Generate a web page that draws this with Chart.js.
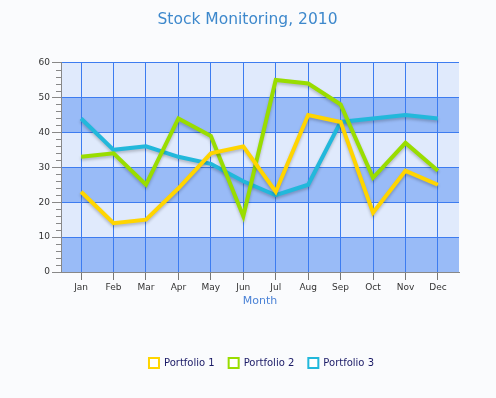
<!DOCTYPE html>
<html>
<head>
<meta charset="utf-8">
<script src="https://cdn.jsdelivr.net/npm/chart.js@4"></script>
<style>
  html, body { margin: 0; padding: 0; background: #fafbfd; }
  #wrap { width: 496px; height: 398px; }
</style>
</head>
<body>
<div id="wrap"><canvas id="stockChart"></canvas></div>
<script>
// dati
const months = ['Jan', 'Feb', 'Mar', 'Apr', 'May', 'Jun', 'Jul', 'Aug', 'Sep', 'Oct', 'Nov', 'Dec'];
const portfolio1 = [23, 14, 15, 24, 34, 36, 23, 45, 43, 17, 29, 25];
const portfolio2 = [33, 34, 25, 44, 39, 16, 55, 54, 48, 27, 37, 29];
const portfolio3 = [44, 35, 36, 33, 31, 26, 22, 25, 43, 44, 45, 44];
const yTicks = [0, 10, 20, 30, 40, 50, 60];

const toPoints = arr => arr.map((v, i) => ({ x: i, y: v }));

// fasce alternate dietro la griglia
const bandsPlugin = {
    id: 'bands',
    afterLayout(chart) {
        // centra titolo e legenda sulla tela intera come nell'originale
        if (chart.titleBlock) {
            chart.titleBlock.left += 18;
            chart.titleBlock.right += 18;
        }
        if (chart.legend) {
            chart.legend.left += 32;
            chart.legend.right += 32;
        }
    },
    beforeDraw(chart) {
        const { ctx, chartArea, scales } = chart;
        const y = scales.y;
        ctx.save();
        for (let i = 0; i < yTicks.length - 1; i++) {
            const top = y.getPixelForValue(yTicks[i + 1]);
            const bottom = y.getPixelForValue(yTicks[i]);
            ctx.fillStyle = i % 2 === 0 ? '#99bbf7' : '#e0eafc';
            ctx.fillRect(chartArea.left, top, chartArea.right - chartArea.left, bottom - top);
        }
        ctx.restore();
    },
    afterDraw(chart) {
        // tacche minori asse y
        const { ctx, scales } = chart;
        const y = scales.y;
        ctx.save();
        ctx.strokeStyle = '#888888';
        ctx.lineWidth = 1;
        for (let v = 0; v <= 60; v += 2) {
            if (v % 10 === 0) continue;
            const py = Math.round(y.getPixelForValue(v)) + 0.5;
            ctx.beginPath();
            ctx.moveTo(y.right - 5, py);
            ctx.lineTo(y.right, py);
            ctx.stroke();
        }
        ctx.restore();
    },
    beforeDatasetDraw(chart) {
        const ctx = chart.ctx;
        ctx.save();
        ctx.shadowColor = 'rgba(0,0,0,0.22)';
        ctx.shadowBlur = 3;
        ctx.shadowOffsetY = 2;
    },
    afterDatasetDraw(chart) {
        chart.ctx.restore();
    }
};

const colors = ['#ffd500', '#99dd00', '#22b8db'];

const ctx = document.getElementById('stockChart').getContext('2d');
new Chart(ctx, {
    type: 'line',
    data: {
        datasets: [
            { label: 'Portfolio 1', data: toPoints(portfolio1), borderColor: colors[0] },
            { label: 'Portfolio 2', data: toPoints(portfolio2), borderColor: colors[1] },
            { label: 'Portfolio 3', data: toPoints(portfolio3), borderColor: colors[2] }
        ].map(d => Object.assign(d, {
            backgroundColor: '#ffffff',
            borderWidth: 4,
            pointRadius: 0,
            tension: 0,
            fill: false
        }))
    },
    options: {
        animation: false,
        responsive: true,
        maintainAspectRatio: false,
        layout: { padding: { left: 0, right: 37, top: 0, bottom: 20 } },
        plugins: {
            title: {
                display: true,
                text: 'Stock Monitoring, 2010',
                color: '#3d88cc',
                font: { family: 'DejaVu Sans', size: 15.5, weight: 'normal' },
                padding: { top: 11, bottom: 33 }
            },
            legend: {
                position: 'bottom',
                labels: {
                    color: '#1a1a66',
                    font: { family: 'DejaVu Sans', size: 10 },
                    boxWidth: 10,
                    boxHeight: 10,
                    padding: 14,
                    generateLabels(chart) {
                        return chart.data.datasets.map((ds, i) => ({
                            text: ds.label,
                            fillStyle: '#ffffff',
                            strokeStyle: ds.borderColor,
                            lineWidth: 2,
                            fontColor: '#1a1a66',
                            datasetIndex: i
                        }));
                    }
                }
            },
            tooltip: { enabled: false }
        },
        scales: {
            x: {
                type: 'linear',
                min: -0.62,
                max: 11.65,
                ticks: {
                    stepSize: 1,
                    includeBounds: false,
                    autoSkip: false,
                    maxRotation: 0,
                    color: '#333333',
                    font: { family: 'DejaVu Sans', size: 9 },
                    padding: 2,
                    callback: v => months[v] || ''
                },
                grid: { color: '#3d7cf0', tickColor: '#777777', tickLength: 8, drawOnChartArea: true },
                border: { color: '#888888', width: 1 },
                title: {
                    display: true,
                    text: 'Month',
                    color: '#4a82d6',
                    font: { family: 'DejaVu Sans', size: 11 },
                    padding: { top: 0, bottom: 36 }
                }
            },
            y: {
                min: 0,
                max: 60,
                ticks: {
                    stepSize: 10,
                    color: '#333333',
                    font: { family: 'DejaVu Sans', size: 9 },
                    padding: 2
                },
                grid: { color: '#3d7cf0', tickColor: '#888888', tickLength: 9 },
                border: { color: '#888888', width: 1 },
                afterFit(scale) { scale.width = 61; }
            }
        }
    },
    plugins: [bandsPlugin]
});
</script>
</body>
</html>
